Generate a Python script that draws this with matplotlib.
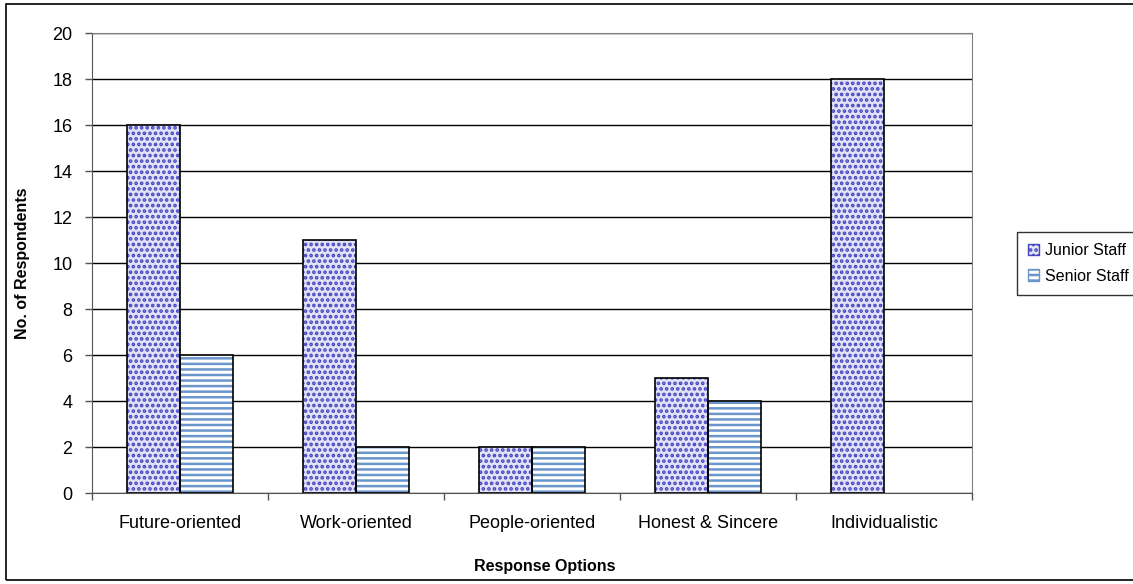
import numpy as np
import matplotlib.pyplot as plt
from matplotlib.patches import Rectangle, Patch

plt.rcParams['font.family'] = ['Liberation Sans', 'DejaVu Sans']
plt.rcParams['hatch.linewidth'] = 1.8

categories = ["Future-oriented", "Work-oriented", "People-oriented", "Honest & Sincere", "Individualistic"]
junior = [16, 11, 2, 5, 18]
senior = [6, 2, 2, 4, 0]
series_names = ["Junior Staff", "Senior Staff"]

W, H = 1133, 584
fig = plt.figure(figsize=(W / 100, H / 100), dpi=100)
ax = fig.add_axes([92 / W, 1 - 493 / H, 880 / W, 460 / H])

# outer chart border
fig.patches.append(Rectangle((6 / W, 4 / H), 1.2, 576 / H, transform=fig.transFigure,
                             fill=False, edgecolor="black", linewidth=1.2, zorder=0))

x = np.arange(len(categories))
w = 0.3
jr_face, jr_hatch = "#e2e2f6", "#4444c0"
sr_face, sr_hatch = "white", "#6a96cc"

# patterns first, black outlines on top
ax.bar(x - w / 2, junior, w, color=jr_face, edgecolor=jr_hatch,
       hatch="...", linewidth=0, zorder=2)
ax.bar(x + w / 2, senior, w, color=sr_face, edgecolor=sr_hatch,
       hatch="---", linewidth=0, zorder=2)
ax.bar(x - w / 2, junior, w, fill=False, edgecolor="black", linewidth=1.2, zorder=3)
ax.bar(x + w / 2, [v if v > 0 else np.nan for v in senior], w, fill=False,
       edgecolor="black", linewidth=1.2, zorder=3)

ax.set_xlim(-0.5, len(categories) - 0.5)
ax.set_ylim(0, 20)
ax.set_yticks(np.arange(0, 21, 2))
ax.yaxis.grid(True, color="black", linewidth=1.0, zorder=0)
ax.set_axisbelow(True)

ax.set_xticks(x)
ax.set_xticklabels(categories, fontsize=13)
ax.tick_params(axis="x", which="major", length=0, pad=16)
ax.set_xticks(np.arange(-0.5, len(categories), 1.0), minor=True)
ax.tick_params(axis="x", which="minor", length=5, width=1, color="#555555")
ax.tick_params(axis="y", length=5, width=1, color="#555555", labelsize=13, pad=9)

for side in ["top", "right"]:
    ax.spines[side].set_color("#808080")
ax.spines["left"].set_color("#555555")
ax.spines["bottom"].set_color("#555555")

ax.set_ylabel("No. of Respondents", fontsize=11.5, fontweight="bold", labelpad=16)
fig.text(545 / W, 1 - 567 / H, "Response Options", fontsize=11.5, fontweight="bold",
         ha="center", va="center")

handles = [Patch(facecolor=jr_face, edgecolor=jr_hatch, hatch="..."),
           Patch(facecolor=sr_face, edgecolor=sr_hatch, hatch="---")]
leg = fig.legend(handles, series_names, loc="upper left",
                 bbox_to_anchor=(1017 / W, 1 - 232 / H), fontsize=11.5,
                 frameon=True, fancybox=False, handlelength=0.7, handleheight=0.7,
                 handletextpad=0.35, borderpad=0.7, labelspacing=0.65, borderaxespad=0)
leg.get_frame().set_edgecolor("black")
leg.get_frame().set_linewidth(1.0)

fig.savefig("out.png", dpi=100)
